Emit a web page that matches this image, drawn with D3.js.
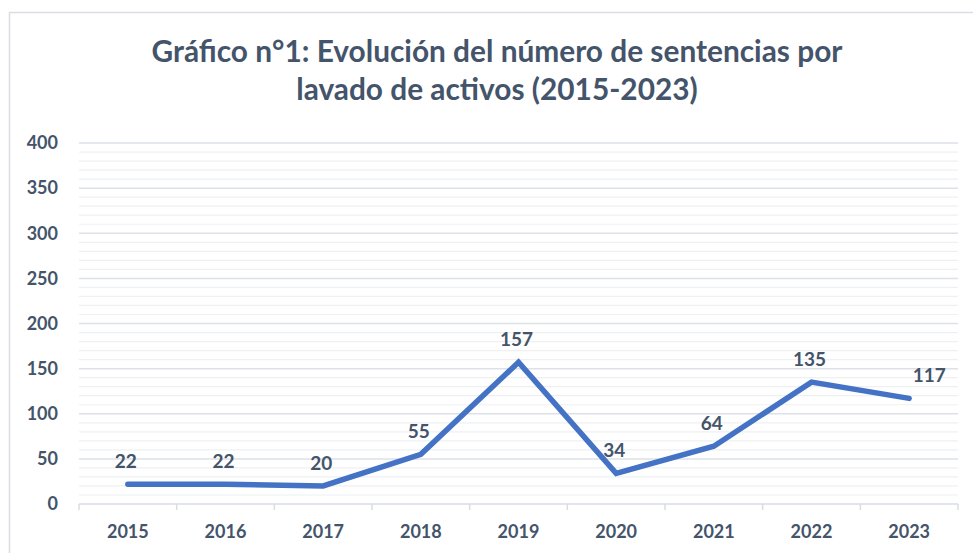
<!DOCTYPE html>
<html>
<head>
<meta charset="utf-8">
<script src="https://cdn.jsdelivr.net/npm/d3@7"></script>
<style>
  html, body { margin: 0; padding: 0; background: #fff; }
  svg { display: block; }
</style>
</head>
<body>
<div id="chart"></div>
<script>
// Chart data
const years = ['2015', '2016', '2017', '2018', '2019', '2020', '2021', '2022', '2023'];
const sentencias = [22, 22, 20, 55, 157, 34, 64, 135, 117];
const yTicks = [0, 50, 100, 150, 200, 250, 300, 350, 400];
const titleLines = ['Gráfico n°1: Evolución del número de sentencias por', 'lavado de activos (2015-2023)'];

const W = 973, H = 553;
const margin = { top: 143, right: 15, bottom: 49, left: 79 };
const textColor = '#44546a';
const font = 'Lato, "Open Sans", sans-serif';

const svg = d3.select('#chart').append('svg')
  .attr('width', W)
  .attr('height', H);

// outer frame of the chart area
svg.append('rect')
  .attr('x', 9.5).attr('y', 12.5)
  .attr('width', W + 20).attr('height', H + 20)
  .attr('fill', 'none')
  .attr('stroke', '#d9dde3')
  .attr('stroke-width', 1.5);

const x = d3.scaleBand()
  .domain(years)
  .range([margin.left, W - margin.right]);

const y = d3.scaleLinear()
  .domain([0, 400])
  .range([H - margin.bottom, margin.top]);

// minor gridlines every 10
svg.append('g')
  .selectAll('line')
  .data(d3.range(0, 401, 10).filter((v) => v % 50 !== 0))
  .join('line')
  .attr('x1', margin.left).attr('x2', W - margin.right)
  .attr('y1', (d) => y(d)).attr('y2', (d) => y(d))
  .attr('stroke', '#eef0f3')
  .attr('stroke-width', 1.2);

// major gridlines
svg.append('g')
  .selectAll('line')
  .data(yTicks.filter((v) => v > 0))
  .join('line')
  .attr('x1', margin.left).attr('x2', W - margin.right)
  .attr('y1', (d) => y(d)).attr('y2', (d) => y(d))
  .attr('stroke', '#dde1e7')
  .attr('stroke-width', 1.5);

// y axis labels
const yAxis = svg.append('g')
  .attr('transform', `translate(${margin.left},0)`)
  .call(d3.axisLeft(y).tickValues(yTicks).tickSize(0).tickPadding(21));
yAxis.select('.domain').remove();
yAxis.selectAll('text')
  .attr('font-family', font)
  .attr('font-size', 18)
  .attr('font-weight', 'bold')
  .attr('fill', textColor);

// x axis with ticks on band boundaries
const baseY = y(0);
svg.append('line')
  .attr('x1', margin.left).attr('x2', W - margin.right)
  .attr('y1', baseY).attr('y2', baseY)
  .attr('stroke', '#d9dde3')
  .attr('stroke-width', 1.5);

const bounds = years.map((d) => x(d)).concat([x(years[years.length - 1]) + x.bandwidth()]);
svg.append('g')
  .selectAll('line')
  .data(bounds)
  .join('line')
  .attr('x1', (d) => d).attr('x2', (d) => d)
  .attr('y1', baseY).attr('y2', baseY + 6)
  .attr('stroke', '#d9dde3')
  .attr('stroke-width', 1.5);

svg.append('g')
  .selectAll('text')
  .data(years)
  .join('text')
  .attr('x', (d) => x(d) + x.bandwidth() / 2)
  .attr('y', baseY + 34)
  .attr('text-anchor', 'middle')
  .attr('font-family', font)
  .attr('font-size', 18)
  .attr('font-weight', 'bold')
  .attr('fill', textColor)
  .text((d) => d);

// the series line
const pts = years.map((d, i) => [x(d) + x.bandwidth() / 2, y(sentencias[i])]);
svg.append('path')
  .attr('d', d3.line()(pts))
  .attr('fill', 'none')
  .attr('stroke', '#4472c4')
  .attr('stroke-width', 5.5)
  .attr('stroke-linecap', 'round')
  .attr('stroke-linejoin', 'miter');

// data labels (the last one is nudged right, as in the original)
const last = sentencias.length - 1;
svg.append('g')
  .selectAll('text')
  .data(sentencias)
  .join('text')
  .attr('x', (d, i) => pts[i][0] + (i === last ? 20 : -2))
  .attr('y', (d, i) => pts[i][1] - 16)
  .attr('text-anchor', 'middle')
  .attr('font-family', font)
  .attr('font-size', 19)
  .attr('font-weight', 'bold')
  .attr('fill', textColor)
  .text((d) => d);

// title
const title = svg.append('g')
  .selectAll('text')
  .data(titleLines)
  .join('text')
  .attr('x', 497)
  .attr('y', (d, i) => 62 + i * 38)
  .attr('text-anchor', 'middle')
  .attr('font-family', font)
  .attr('font-size', 26)
  .attr('font-weight', 'bold')
  .attr('fill', textColor)
  .text((d) => d);

// scale the title so the first line spans the same width as the original
const w0 = title.node().getComputedTextLength();
if (w0 > 0) title.attr('font-size', (26 * 691 / w0).toFixed(2));
</script>
</body>
</html>
